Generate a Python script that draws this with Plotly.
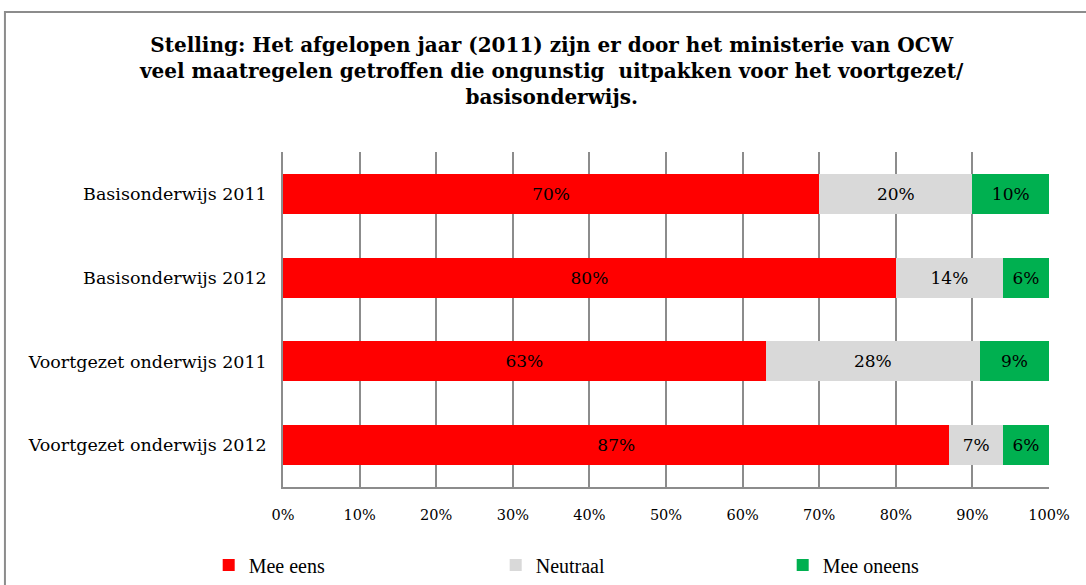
import plotly.graph_objects as go

categories = ["Basisonderwijs 2011", "Basisonderwijs 2012",
              "Voortgezet onderwijs 2011", "Voortgezet onderwijs 2012"]
mee_eens = [70, 80, 63, 87]
neutraal = [20, 14, 28, 7]
mee_oneens = [10, 6, 9, 6]
series_names = ["Mee eens", "Neutraal", "Mee oneens"]
colors = ["#FF0000", "#D9D9D9", "#00B050"]
x_ticks = [0, 10, 20, 30, 40, 50, 60, 70, 80, 90, 100]

FONT = "DejaVu Serif"

fig = go.Figure()
for name, vals, col in zip(series_names, [mee_eens, neutraal, mee_oneens], colors):
    fig.add_trace(go.Bar(
        y=categories, x=vals, name=name, orientation="h",
        marker=dict(color=col, line=dict(width=0)),
        text=[f"{v}%" for v in vals], textposition="inside",
        insidetextanchor="middle", textangle=0,
        textfont=dict(family=FONT, size=17, color="black"),
        width=0.48, hoverinfo="skip",
    ))

fig.update_layout(
    barmode="stack",
    width=1086, height=585,
    margin=dict(l=283, r=37, t=152, b=98, autoexpand=False),
    paper_bgcolor="white", plot_bgcolor="white",
    title=dict(
        text="Stelling: Het afgelopen jaar (2011) zijn er door het ministerie van OCW<br>"
             "veel maatregelen getroffen die ongunstig  uitpakken voor het voortgezet/<br>"
             "basisonderwijs.",
        x=0.508, xanchor="center", y=0.911, yanchor="top",
        font=dict(family="DejaVu Serif", size=20, color="black", weight="bold"),
    ),
    font=dict(family=FONT, color="black"),
    xaxis=dict(
        range=[0, 100], tickvals=x_ticks, ticktext=[f"{t}%" for t in x_ticks],
        showgrid=True, gridcolor="#8C8C8C", gridwidth=1.5,
        showline=True, linecolor="#8C8C8C", linewidth=1.5,
        zeroline=False, ticks="", tickfont=dict(family=FONT, size=14.5),
        ticklabelstandoff=14,
    ),
    yaxis=dict(
        autorange="reversed", showline=True, linecolor="#8C8C8C", linewidth=1.5,
        showgrid=False, ticks="", tickfont=dict(family=FONT, size=17.5),
        ticklabelstandoff=11,
    ),
    legend=dict(
        orientation="h", x=-0.097, xanchor="left", y=-0.233, yanchor="middle",
        entrywidth=242, entrywidthmode="pixels",
        font=dict(family="Liberation Serif", size=20), traceorder="normal",
        itemwidth=30,
    ),
    showlegend=True,
    shapes=[dict(type="rect", xref="paper", yref="paper",
                 x0=-0.363, x1=1.2, y0=-0.4, y1=1.418,
                 line=dict(color="#8C8C8C", width=2), fillcolor="rgba(0,0,0,0)",
                 layer="below")],
)

fig.write_html("out.html", config={"displayModeBar": False},
               post_script="document.body.style.margin='0px';")
